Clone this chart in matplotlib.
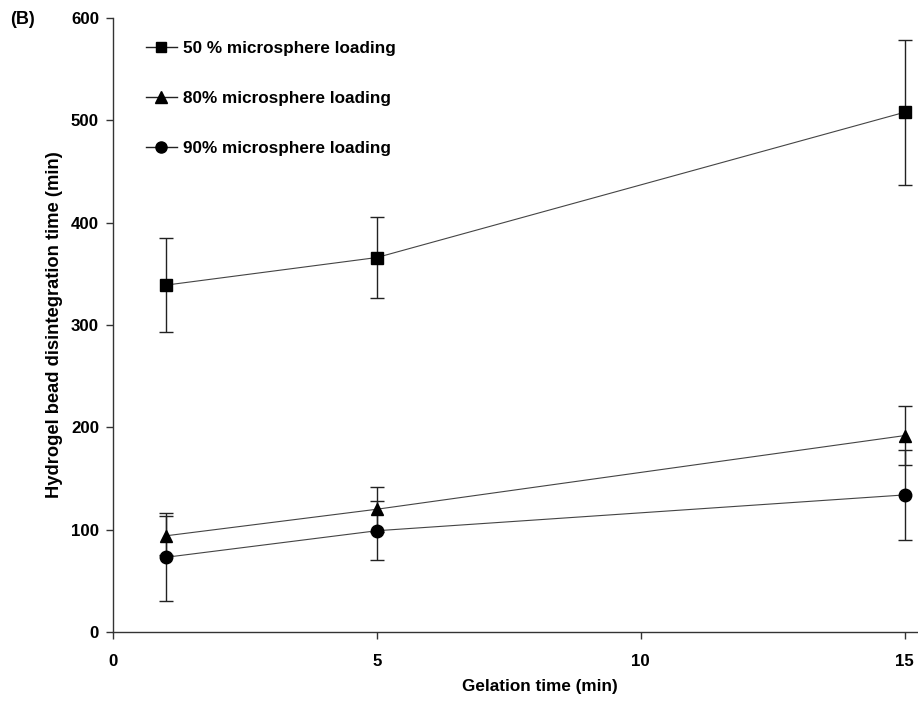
import matplotlib
matplotlib.use("Agg")
import matplotlib.pyplot as plt
from matplotlib.lines import Line2D

plt.rcParams["font.family"] = ["Liberation Sans", "DejaVu Sans"]
plt.rcParams["font.weight"] = "bold"

# gelation time (min)
gelation = [1, 5, 15]

# disintegration time (min), mean and error per loading
load50 = [339, 366, 508]
load50_err = [46, 40, 71]
load80 = [94, 120, 192]
load80_err = [19, 22, 29]
load90 = [73, 99, 134]
load90_err = [43, 29, 44]

labels = ["50 % microsphere loading", "80% microsphere loading", "90% microsphere loading"]

fig = plt.figure(figsize=(9.18, 7.01), dpi=100)
ax = fig.add_axes([0.123, 0.0984, 0.877, 0.8758])

line_col = "#444444"
err_col = "#222222"

series = [(load50, load50_err, "s", 8), (load80, load80_err, "^", 9), (load90, load90_err, "o", 9)]
handles = []
for (vals, errs, mk, ms), lab in zip(series, labels):
    ax.errorbar(gelation, vals, yerr=errs, fmt="-", marker=mk, ms=ms, color=line_col,
                mfc="black", mec="black", lw=0.8, ecolor=err_col, elinewidth=1.0,
                capsize=5, capthick=1.0)
    handles.append(Line2D([], [], color="#222222", lw=1.0, marker=mk, ms=ms - 1,
                          mfc="black", mec="black", label=lab))

ax.set_xlim(0, 15.25)
ax.set_ylim(0, 600)
ax.set_xticks([0, 5, 10, 15])
ax.set_yticks(range(0, 601, 100))
ax.spines["top"].set_visible(False)
ax.spines["right"].set_visible(False)
for s in ("left", "bottom"):
    ax.spines[s].set_color("#333333")
    ax.spines[s].set_linewidth(1.0)
ax.tick_params(direction="out", length=5, width=1.0, color="#333333", labelsize=12.2, pad=5)
ax.tick_params(axis="x", pad=11)
for t in ax.get_xticklabels() + ax.get_yticklabels():
    t.set_fontweight("bold")

ax.set_xlabel("Gelation time (min)", fontsize=12.3, fontweight="bold", labelpad=7, x=0.530)
ax.set_ylabel("Hydrogel bead disintegration time (min)", fontsize=13.2, fontweight="bold", labelpad=6)

fig.text(0.011, 0.972, "(B)", fontsize=13, fontweight="bold", va="center")

leg = ax.legend(handles=handles, loc="upper left", bbox_to_anchor=(0.041, 0.963), frameon=False,
                fontsize=12.3, handlelength=1.8, handletextpad=0.35, labelspacing=2.05,
                borderaxespad=0, borderpad=0)
for t in leg.get_texts():
    t.set_fontweight("bold")

fig.savefig("out.png", dpi=100)
